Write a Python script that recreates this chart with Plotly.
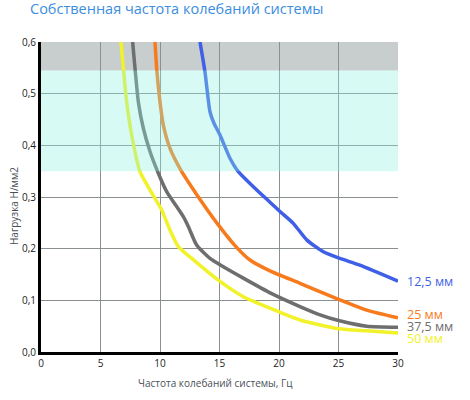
import plotly.graph_objects as go

# Data
x_125 = [13.36, 13.78, 14.2, 14.55, 15.04, 15.88, 16.58, 17.84, 19.24, 20.08, 21.2, 22.33, 23.72, 25.13, 26.8, 30.0]
y_125 = [0.60, 0.542, 0.465, 0.442, 0.42, 0.375, 0.349, 0.32, 0.290, 0.272, 0.249, 0.217, 0.194, 0.181, 0.168, 0.137]

x_25 = [9.58, 9.72, 10.0, 10.28, 10.84, 11.75, 13.08, 14.9, 16.3, 17.56, 19.24, 21.76, 25.0, 27.37, 30.0]
y_25 = [0.60, 0.549, 0.484, 0.439, 0.394, 0.352, 0.305, 0.246, 0.206, 0.178, 0.157, 0.133, 0.102, 0.081, 0.066]

x_375 = [7.7, 7.9, 8.18, 8.6, 9.16, 9.86, 10.55, 11.96, 12.38, 13.08, 14.2, 15.32, 17.0, 19.3, 21.76, 23.45, 25.0, 27.37, 30.0]
y_375 = [0.60, 0.549, 0.484, 0.433, 0.388, 0.346, 0.311, 0.262, 0.243, 0.207, 0.181, 0.165, 0.143, 0.114, 0.088, 0.072, 0.061, 0.050, 0.048]

x_50 = [6.72, 6.92, 7.2, 7.62, 8.32, 9.2, 10.14, 10.84, 11.54, 12.52, 14.9, 17.0, 19.24, 21.76, 25.0, 27.37, 30.0]
y_50 = [0.60, 0.549, 0.484, 0.42, 0.349, 0.312, 0.275, 0.236, 0.204, 0.184, 0.139, 0.107, 0.085, 0.062, 0.045, 0.041, 0.037]

series_names = ["12,5 мм", "25 мм", "37,5 мм", "50 мм"]
series_x = [x_125, x_25, x_375, x_50]
series_y = [y_125, y_25, y_375, y_50]
series_colors = ["#3f5fe6", "#f77b1c", "#6e6e6e", "#f2f22a"]
label_y = [0.137, 0.0735, 0.049, 0.027]

grey_band = [0.545, 0.6]
cyan_band = [0.35, 0.545]

title_text = "Собственная частота колебаний системы"
x_title = "Частота колебаний системы, Гц"
y_title = "Нагрузка Н/мм2"

FONT = "Open Sans"
PW, PH = 357, 310  # plot area size in px

fig = go.Figure()
for xs, ys, c, n in zip(series_x, series_y, series_colors, series_names):
    fig.add_trace(go.Scatter(x=xs, y=ys, mode="lines", name=n,
                             line=dict(color=c, width=3.5, shape="spline", smoothing=0.6),
                             showlegend=False, hoverinfo="skip"))

# bands
fig.add_shape(type="rect", xref="x", yref="y", x0=0, x1=30, y0=grey_band[0], y1=grey_band[1],
              fillcolor="#c8cdcd", line=dict(width=0), layer="below")
fig.add_shape(type="rect", xref="x", yref="y", x0=0, x1=30, y0=cyan_band[0], y1=cyan_band[1],
              fillcolor="rgb(140,240,225)", opacity=0.35, line=dict(width=0), layer="above")

# right-side series labels
for n, c, ly in zip(series_names, series_colors, label_y):
    fig.add_annotation(x=30, y=ly, xref="x", yref="y", text=n, showarrow=False,
                       xanchor="left", yanchor="middle", xshift=7,
                       font=dict(family=FONT, size=12.5, color=c))

# titles (positions relative to plot area)
fig.add_annotation(x=-13 / PW, y=1 + 34 / PH, xref="paper", yref="paper", text=title_text,
                   showarrow=False, xanchor="left", yanchor="middle",
                   font=dict(family=FONT, size=14.5, color="#3b8de0"))
fig.add_annotation(x=174 / PW, y=-31 / PH, xref="paper", yref="paper", text=x_title,
                   showarrow=False, xanchor="center", yanchor="middle",
                   font=dict(family=FONT, size=10, color="#4a4f57"))
fig.add_annotation(x=-27 / PW, y=146 / PH, xref="paper", yref="paper", text=y_title,
                   showarrow=False, textangle=-90, xanchor="center", yanchor="middle",
                   font=dict(family=FONT, size=10, color="#4a4f57"))

fig.update_layout(
    width=470, height=400,
    margin=dict(l=41, r=72, t=42, b=48),
    plot_bgcolor="white", paper_bgcolor="white",
    separators=", ",
    font=dict(family=FONT, size=10, color="#222222"),
    xaxis=dict(range=[0, 30], dtick=5, tick0=0, showgrid=True, gridcolor="#8a9090", gridwidth=1,
               zeroline=False, showline=True, linecolor="black", linewidth=3,
               ticks="", tickfont=dict(family=FONT, size=10, color="#222222")),
    yaxis=dict(range=[0, 0.6], dtick=0.1, tick0=0, tickformat=".1f", showgrid=True,
               gridcolor="#8a9090", gridwidth=1, zeroline=False, showline=True,
               linecolor="black", linewidth=3, ticks="",
               tickfont=dict(family=FONT, size=10, color="#222222")),
)

# remove the default page margin so the figure fills the window exactly
fig.write_html("out.html", config={"displayModeBar": False},
               post_script="document.body.style.margin='0';document.body.style.overflow='hidden';")
